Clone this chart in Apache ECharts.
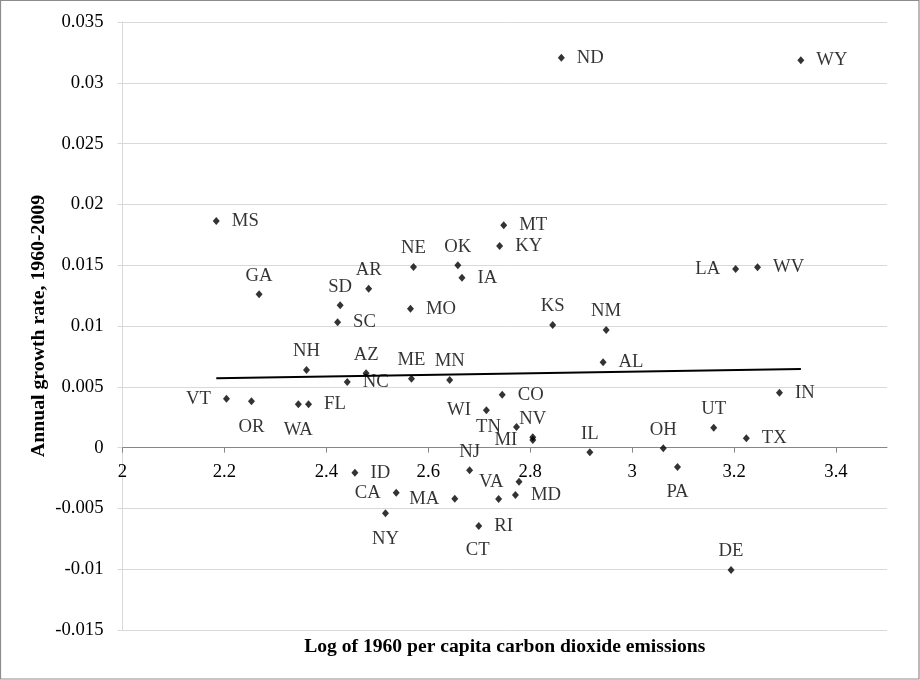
<!DOCTYPE html>
<html>
<head>
<meta charset="utf-8">
<script src="https://cdn.jsdelivr.net/npm/echarts@6/dist/echarts.min.js"></script>
<style>
html,body{margin:0;padding:0;background:#fff;}
#chart{width:920px;height:680px;}
</style>
</head>
<body>
<div id="chart"></div>
<script>
// ---- data ----
const states = ['MS','GA','SD','SC','AR','NE','MO','OK','IA','ND','WY','MT','KY','LA','WV','KS','NM','NH','AZ','NC','ME','MN','VT','OR','WA','FL','ID','CA','NY','MA','AL','CO','WI','TN','NV','MI','IL','OH','UT','TX','IN','PA','DE','NJ','VA','MD','CT','RI'];
const logCO2 = [2.184,2.268,2.427,2.422,2.483,2.571,2.565,2.658,2.666,2.861,3.331,2.748,2.740,3.203,3.246,2.844,2.949,2.361,2.478,2.441,2.567,2.642,2.204,2.253,2.345,2.365,2.456,2.537,2.516,2.652,2.943,2.745,2.714,2.773,2.805,2.805,2.917,3.061,3.160,3.224,3.289,3.089,3.194,2.681,2.778,2.771,2.738,2.699];
const growth = [0.01864,0.01261,0.01170,0.01030,0.01307,0.01485,0.01142,0.01499,0.01397,0.03206,0.03185,0.01828,0.01658,0.01469,0.01483,0.01008,0.00967,0.00638,0.00611,0.00539,0.00567,0.00556,0.00402,0.00381,0.00356,0.00356,-0.00206,-0.00371,-0.00540,-0.00420,0.00701,0.00435,0.00307,0.00169,0.00085,0.00063,-0.00039,-0.00006,0.00164,0.00076,0.00451,-0.00160,-0.01007,-0.00187,-0.00280,-0.00390,-0.00423,-0.00645];
const trendX = [2.184, 3.331];
const trendY = [0.00570, 0.00646];
const xTicks = [2, 2.2, 2.4, 2.6, 2.8, 3, 3.2, 3.4];
const yTicks = [-0.015, -0.01, -0.005, 0, 0.005, 0.01, 0.015, 0.02, 0.025, 0.03, 0.035];
const xTitle = 'Log of 1960 per capita carbon dioxide emissions';
const yTitle = 'Annual growth rate, 1960-2009';

// ---- label placement (style) ----
const labelSide = {
  MS:'right', GA:'top', SD:'top', SC:'right', AR:'top', NE:'top', MO:'right', OK:'top', IA:'right',
  ND:'right', WY:'right', MT:'right', KY:'right', LA:'left', WV:'right', KS:'top', NM:'top',
  NH:'top', AZ:'top', NC:'right', ME:'top', MN:'top', VT:'left', OR:'bottom', WA:'bottom', FL:'right',
  ID:'right', CA:'left', NY:'bottom', MA:'left', AL:'right', CO:'right', WI:'left', TN:'left',
  NV:'top', MI:'left', IL:'top', OH:'top', UT:'top', TX:'right', IN:'right', PA:'bottom', DE:'top',
  NJ:'top', VA:'left', MD:'right', CT:'bottom', RI:'right'
};
const labelShift = { CT: [-21, 26] };

const FONT = "'Liberation Serif','Times New Roman',serif";
const TXT = '#000000';

// layout (style)
const GRID_TOP = 22, GRID_BOTTOM = 50, H = 680;
const plotH = H - GRID_TOP - GRID_BOTTOM;
const yMin = yTicks[0], yMax = yTicks[yTicks.length - 1];
const zeroShift = -plotH * (0 - yMin) / (yMax - yMin); // move x axis up to y = 0

const pts = states.map((s, i) => {
  const side = labelSide[s];
  const lab = { position: side, distance: (side === 'left' || side === 'right') ? 12 : (side === 'top' ? 5 : 12) };
  return { name: s, value: [logCO2[i], growth[i]], label: lab };
});

const chart = echarts.init(document.getElementById('chart'), null, { renderer: 'canvas' });
chart.setOption({
  animation: false,
  backgroundColor: '#ffffff',
  textStyle: { fontFamily: FONT },
  grid: { left: 122.5, right: 33, top: GRID_TOP, bottom: GRID_BOTTOM, containLabel: false, outerBoundsMode: 'none' },
  graphic: [{
    type: 'rect', shape: { x: 0.5, y: 0.5, width: 918.5, height: 678.5 },
    style: { fill: 'none', stroke: '#8c8c8c', lineWidth: 1.2 }, silent: true, z: -1
  }],
  xAxis: {
    type: 'value', min: 2, max: 3.5, interval: 0.2, position: 'bottom', offset: zeroShift,
    name: xTitle, nameLocation: 'middle', nameGap: 189,
    nameTextStyle: { fontFamily: FONT, fontSize: 19.6, fontWeight: 'bold', color: TXT },
    axisLine: { show: true, onZero: false, lineStyle: { color: '#868686', width: 1 } },
    axisTick: { show: true, length: 5, inside: false, customValues: xTicks, lineStyle: { color: '#868686' } },
    axisLabel: { customValues: xTicks, fontFamily: FONT, fontSize: 18.7, color: TXT, margin: 15,
      formatter: v => String(+v.toFixed(1)) },
    splitLine: { show: false }
  },
  yAxis: {
    type: 'value', min: yMin, max: yMax, interval: 0.005,
    name: yTitle, nameLocation: 'middle', nameGap: 74, nameRotate: 90, nameMoveOverlap: false,
    nameTextStyle: { fontFamily: FONT, fontSize: 19.8, fontWeight: 'bold', color: TXT },
    axisLine: { show: true, onZero: false, lineStyle: { color: '#d9d9d9', width: 1 } },
    axisTick: { show: true, length: 5, inside: false, customValues: yTicks, lineStyle: { color: '#d9d9d9' } },
    axisLabel: { customValues: yTicks, fontFamily: FONT, fontSize: 18.7, color: TXT, margin: 19,
      formatter: v => String(+v.toFixed(3)) },
    splitLine: { show: true, lineStyle: { color: '#d9d9d9', width: 1 } }
  },
  series: [
    {
      type: 'line', data: trendX.map((x, i) => [x, trendY[i]]),
      symbol: 'none', lineStyle: { color: '#000', width: 2 }, z: 1, silent: true
    },
    {
      type: 'scatter', data: pts, symbol: 'diamond', symbolSize: [7, 8],
      itemStyle: { color: '#000' }, z: 2,
      label: { show: true, formatter: '{b}', fontFamily: FONT, fontSize: 18.7, color: TXT },
      labelLayout: function (params) {
        const s = states[params.dataIndex];
        const sh = labelShift[s];
        return sh ? { dx: sh[0], dy: sh[1], hideOverlap: false } : { hideOverlap: false };
      }
    }
  ]
});
</script>
</body>
</html>
